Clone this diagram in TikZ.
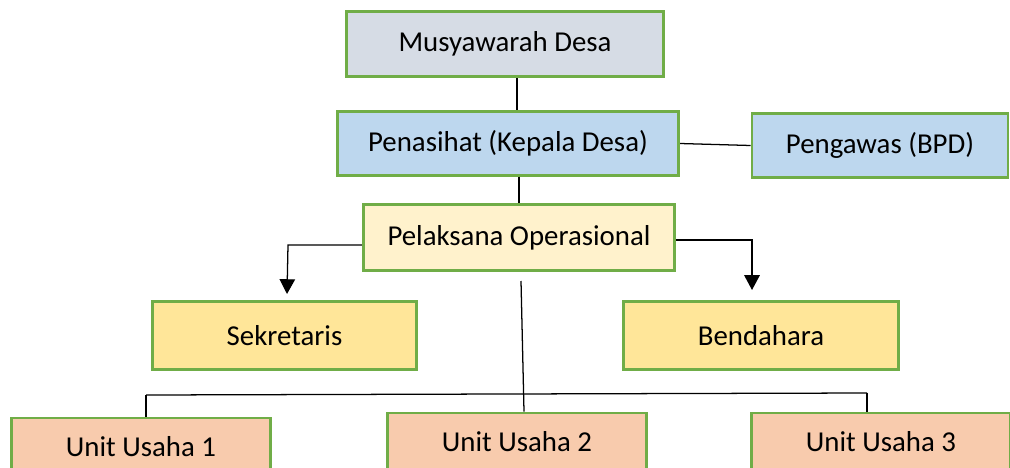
\documentclass[tikz,border=0pt]{standalone}
\usepackage{fontspec}
\setmainfont{Carlito}
\usepackage{tikz}
\usepackage{xcolor}
\usetikzlibrary{positioning, arrows.meta}
\definecolor{orggreen}{RGB}{112, 173, 71}
\definecolor{orggray}{RGB}{214, 220, 229}
\definecolor{orgblue}{RGB}{189, 215, 238}
\definecolor{orgcream}{RGB}{255, 242, 204}
\definecolor{orgyellow}{RGB}{255, 230, 153}
\definecolor{orgpeach}{RGB}{248, 203, 173}
\tikzset{
    orgbox/.style={rectangle, draw=orggreen, line width=2pt, inner sep=0pt,
        font=\fontsize{20.5}{24}\selectfont, text=black},
    musbox/.style={orgbox, fill=orggray, minimum width=7.93cm, minimum height=1.63cm},
    advbox/.style={orgbox, fill=orgblue, minimum height=1.58cm},
    opbox/.style={orgbox, fill=orgcream, minimum width=7.78cm, minimum height=1.66cm},
    staffbox/.style={orgbox, fill=orgyellow, minimum height=1.7cm},
    unitbox/.style={orgbox, fill=orgpeach, minimum width=6.48cm, minimum height=1.45cm},
    link/.style={draw, line width=0.9pt},
    arrowlink/.style={link, -{Triangle[width=11pt, length=10.5pt]}}
}
\begin{document}
\begin{tikzpicture}[x=0.025cm, y=-0.025cm]
    \useasboundingbox (0,0) rectangle (1010,467);
    % kotak-kotak
    \node[musbox] (musdes) at (505,44) {Musyawarah Desa};
    \node[advbox, minimum width=8.53cm] (penasihat) at (508,143.5) {Penasihat (Kepala Desa)};
    \node[advbox, minimum width=6.4cm] (pengawas) at (880,145.5) {Pengawas (BPD)};
    \node[opbox] (pelaksana) at (519,237.5) {Pelaksana Operasional};
    \node[staffbox, minimum width=6.6cm] (sekretaris) at (284.5,335.5) {Sekretaris};
    \node[staffbox, minimum width=6.88cm] (bendahara) at (761,335.5) {Bendahara};
    \node[unitbox] (unit1) at (141,447) {Unit Usaha 1};
    \node[unitbox] (unit2) at (517,442) {Unit Usaha 2};
    \node[unitbox] (unit3) at (881,442) {Unit Usaha 3};
    % garis
    \coordinate (kiri) at (288,245);
    \coordinate (kanan) at (752,240);
    \coordinate (tengah) at (521,281);
    \coordinate (buskiri) at (146,395);
    \coordinate (buskanan) at (867,393);
    \draw[link] (musdes.south -| 517,0) -- (penasihat.north -| 517,0);
    \draw[link] (penasihat.east) -- (pengawas.west);
    \draw[link] (penasihat.south -| 519,0) -- (pelaksana.north -| 519,0);
    \draw[arrowlink] (pelaksana.west |- kiri) -- (kiri) -- (287,294);
    \draw[arrowlink] (pelaksana.east |- kanan) -- (kanan) -- (752,290);
    \draw[link] (tengah) -- (unit2.north -| 524,0);
    \draw[link] (buskiri) -- (buskanan);
    \draw[link] (buskiri) -- (unit1.north -| buskiri);
    \draw[link] (buskanan) -- (unit3.north -| buskanan);
\end{tikzpicture}
\end{document}
